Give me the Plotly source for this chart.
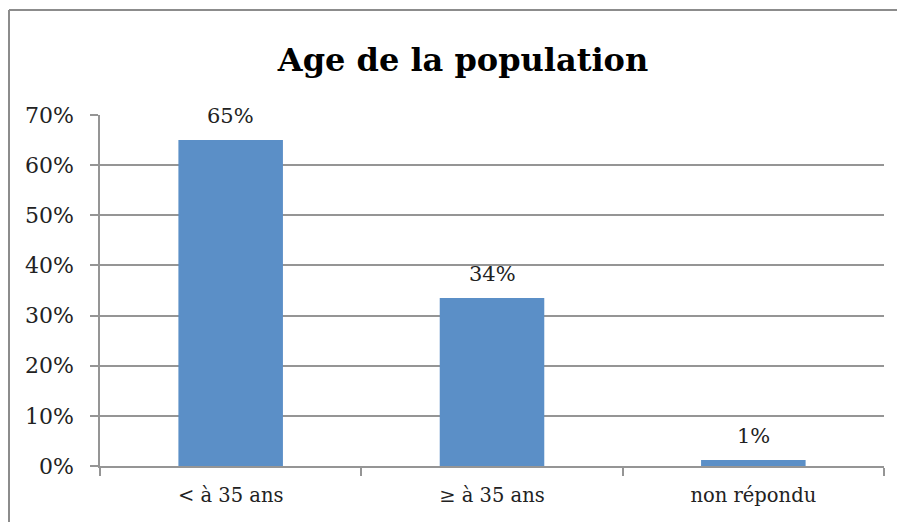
import plotly.graph_objects as go

categories = ["< à 35 ans", "≥ à 35 ans", "non répondu"]
values = [0.65, 0.335, 0.012]
labels = ["65%", "34%", "1%"]
title_text = "Age de la population"

# page has an 8px body margin, so the figure is sized to fit inside it
W, H = 897, 514
L, R, T, B = 92, 21, 107, 56
pw = W - L - R
ph = H - T - B
FONT = "DejaVu Serif, Liberation Serif, serif"

fig = go.Figure()
fig.add_trace(go.Bar(x=categories, y=values, width=0.4,
                     marker=dict(color="#5B8FC7", line=dict(width=0)),
                     hoverinfo="skip"))

for c, v, t in zip(categories, values, labels):
    fig.add_annotation(x=c, y=v, text=t, showarrow=False, yanchor="bottom",
                       yshift=10, font=dict(family=FONT, size=21, color="#222"))

# outer chart border (top and left edges visible)
bx0 = (1 - L) / pw
by_top = (H - 2 - B) / ph
fig.add_shape(type="line", xref="paper", yref="paper", x0=bx0, x1=(W - L) / pw + 0.01,
              y0=by_top, y1=by_top, line=dict(color="#8C8C8C", width=2))
fig.add_shape(type="line", xref="paper", yref="paper", x0=bx0, x1=bx0,
              y0=by_top, y1=-B / ph - 0.02, line=dict(color="#8C8C8C", width=2))

fig.update_layout(
    width=W, height=H,
    margin=dict(l=L, r=R, t=T, b=B),
    paper_bgcolor="white", plot_bgcolor="white",
    showlegend=False,
    bargap=0.6,
    title=dict(text="<b>" + title_text + "</b>", x=455 / W, xanchor="center",
               y=1 - 52 / H, yanchor="middle",
               font=dict(family=FONT, size=32, color="black")),
    font=dict(family=FONT, size=21, color="#222"),
)
fig.update_yaxes(range=[0, 0.7], dtick=0.1, tickformat=".0%",
                 showgrid=True, gridcolor="#959595", gridwidth=1.6,
                 showline=True, linecolor="#959595", linewidth=1.6,
                 ticks="outside", ticklen=8, tickcolor="#959595", tickwidth=1.6,
                 ticklabelstandoff=12, zeroline=False,
                 tickfont=dict(family=FONT, size=22))
fig.update_xaxes(showline=True, linecolor="#959595", linewidth=1.6,
                 ticks="outside", tickson="boundaries", ticklen=8,
                 tickcolor="#959595", tickwidth=1.6, showgrid=False,
                 ticklabelstandoff=11, tickfont=dict(family=FONT, size=19.5))

fig.write_html("out.html")
